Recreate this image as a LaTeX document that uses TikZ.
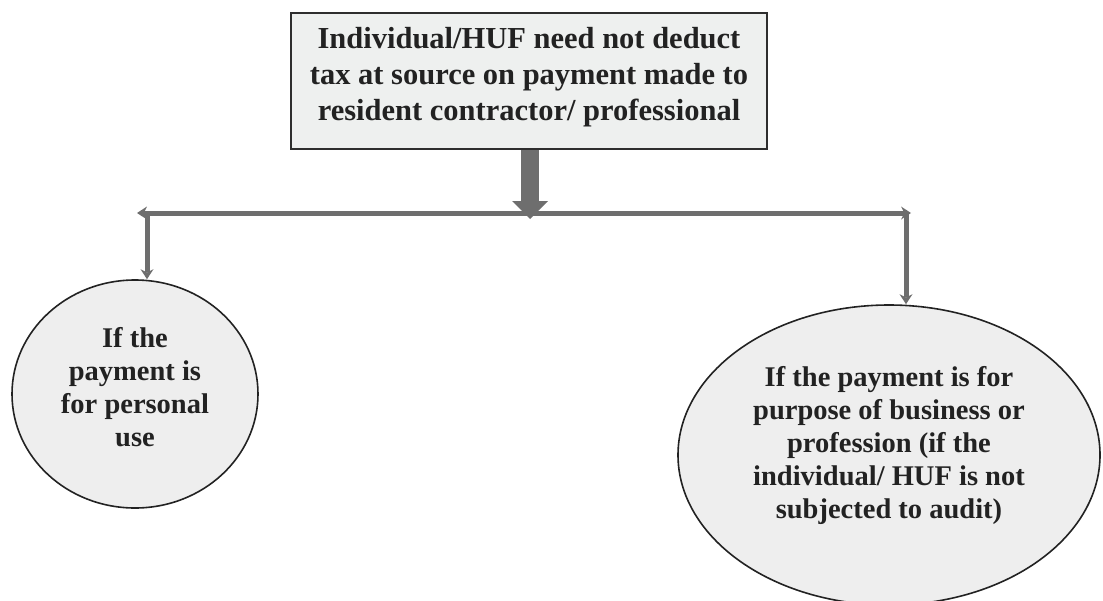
\documentclass[tikz,border=0pt]{standalone}
\usepackage{fontspec}
\setmainfont{Liberation Serif}
\usetikzlibrary{arrows.meta,shapes.geometric}
\definecolor{linegray}{HTML}{6E6E6E}
\definecolor{boxfill}{HTML}{EEF0EF}
\definecolor{ellfill}{HTML}{EEEEEE}
\definecolor{edge}{HTML}{2E2E2E}
\definecolor{ink}{HTML}{222222}
\begin{document}
\begin{tikzpicture}[x=1pt,y=-1pt,
  topbox/.style={draw=edge, line width=2.2pt, fill=boxfill, minimum width=476pt,
    minimum height=136pt, align=center, text=ink, text depth=14pt,
    font=\bfseries\fontsize{30.5}{36}\selectfont},
  choice/.style={ellipse, draw=ink, line width=1.6pt, fill=ellfill, inner sep=0pt,
    align=center, text=ink, font=\bfseries\fontsize{28.5}{33}\selectfont},
  bus/.style={draw=linegray, line width=5pt},
  tip/.style={-{Stealth[length=10pt,width=13pt,line width=0pt]}},
  bigarrow/.style={draw=linegray, line width=18pt,
    -{Triangle[length=18pt,width=36pt,line width=0pt]}}
]
\useasboundingbox (0,0) rectangle (1103,600);

% the statement at the top
\node[topbox] (top) at (529,81)
  {Individual/HUF need not deduct\\tax at source on payment made to\\resident contractor/ professional};

% the two cases
\node[choice, minimum width=246pt, minimum height=228pt, text depth=15pt]
  (personal) at (135,394)
  {If the\\payment is\\for personal\\use};
\node[choice, minimum width=422pt, minimum height=300pt, text depth=26pt]
  (business) at (889,455)
  {If the payment is for\\purpose of business or\\profession (if the\\individual/ HUF is not\\subjected to audit)};

% the branching bar
\coordinate (hub) at (530,213);
\coordinate (tl) at (137,213);
\coordinate (tr) at (911,213);
\coordinate (dl) at (147,213);
\coordinate (dr) at (906,213);

\draw[bigarrow, shorten >=-6pt] (top.south -| hub) -- (hub);
\draw[bus, {Stealth[length=10pt,width=13pt,line width=0pt]}-{Stealth[length=10pt,width=13pt,line width=0pt]}] (tl) -- (tr);
\draw[bus, tip] (dl) -- (dl |- personal.north);
\draw[bus, tip] (dr) -- (dr |- business.north);
\end{tikzpicture}
\end{document}
